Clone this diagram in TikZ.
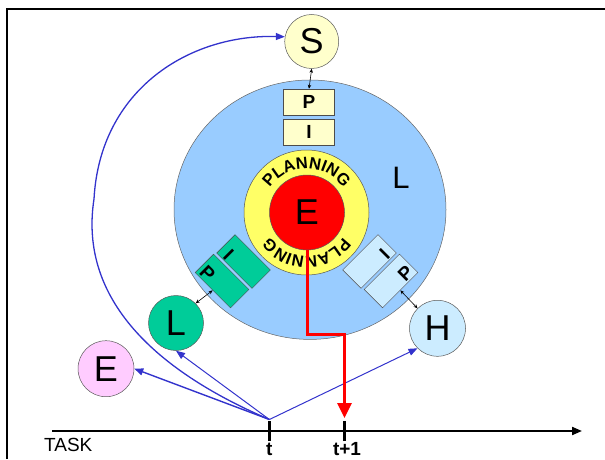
\documentclass[tikz,border=0pt]{standalone}
\usepackage{fontspec}
\setmainfont{Liberation Sans}
\usetikzlibrary{arrows.meta,shapes.geometric,decorations.text}
\definecolor{ringblue}{HTML}{99CCFF}
\definecolor{planyellow}{HTML}{FFFF66}
\definecolor{paleyellow}{HTML}{FFFFCC}
\definecolor{tealgreen}{HTML}{00CC99}
\definecolor{paleblue}{HTML}{CCECFF}
\definecolor{palepink}{HTML}{FFCCFF}
\definecolor{flowblue}{HTML}{3333CC}
\begin{document}
\begin{tikzpicture}[x=1pt,y=1pt,
  bubble/.style={circle, draw=black!65, line width=0.5pt, inner sep=0pt,
    minimum size=#1, font=\fontsize{36}{36}\selectfont},
  tag/.style={rectangle, draw=black!70, line width=0.5pt, inner sep=0pt,
    minimum width=51pt, minimum height=26pt, font=\bfseries\fontsize{19}{19}\selectfont},
  tagletter/.style={inner sep=0pt, font=\bfseries\fontsize{19}{19}\selectfont},
  link/.style={{Stealth[length=4pt,width=3.5pt]}-{Stealth[length=4pt,width=3.5pt]},
    line width=0.6pt},
  flow/.style={draw=flowblue, line width=1pt, -{Triangle[length=9pt,width=7pt]}},
  ticklabel/.style={inner sep=0pt, font=\bfseries\fontsize{19}{19}\selectfont}
]
\useasboundingbox (0,0) rectangle (605,459);

% frame
\draw[line width=2pt] (7,0) -- (7,450) -- (605,450);

% nested circles
\node[ellipse, draw=black!60, line width=0.5pt, fill=ringblue, inner sep=0pt,
  minimum width=272pt, minimum height=259.4pt] (ring) at (310,249.3) {};
\node[circle, draw=black!65, line width=0.5pt, fill=planyellow, inner sep=0pt,
  minimum size=125pt] (plan) at (306.5,246.5) {};
\node[bubble=75pt, fill=red] (core) at (307,246.5) {E};
\node[inner sep=0pt, font=\fontsize{31}{31}\selectfont] (ringL) at (401,281) {L};

% curved PLANNING labels
\path[decorate, decoration={text along path, text align=center,
  text format delimiters={|}{|},
  text={|\bfseries\fontsize{16.5}{16.5}\selectfont|PLANNING}}]
  (306.5,246.5) ++(165:44) arc[start angle=165, end angle=15, radius=44];
\path[decorate, decoration={text along path, text align=center,
  text format delimiters={|}{|},
  text={|\bfseries\fontsize{16.5}{16.5}\selectfont|PLANNING}}]
  (306.5,246.5) ++(-15:44) arc[start angle=-15, end angle=-165, radius=44];

% top boxes
\node[tag, fill=paleyellow] (topP) at (309,357) {P};
\node[tag, fill=paleyellow] (topI) at (309,327) {I};

% lower-left boxes
\node[tag, fill=tealgreen, minimum width=50pt, rotate=-45] (gI) at (243.5,197.5) {};
\node[tag, fill=tealgreen, minimum width=50pt, rotate=-45] (gP) at (222,178) {};
\node[tagletter, rotate=-45] (gIt) at (228.5,204.5) {I};
\node[tagletter, rotate=-45] (gPt) at (207.5,186) {P};

% lower-right boxes
\node[tag, fill=paleblue, minimum width=50pt, rotate=45] (hI) at (369.5,197.5) {};
\node[tag, fill=paleblue, minimum width=50pt, rotate=45] (hP) at (391,178) {};
\node[tagletter, rotate=45] (hIt) at (384.5,204.5) {I};
\node[tagletter, rotate=45] (hPt) at (405.5,186) {P};

% outer circles
\node[bubble=54pt, fill=paleyellow] (S) at (311.7,417.5) {S};
\node[bubble=55pt, fill=tealgreen] (Lc) at (176,136) {L};
\node[bubble=56pt, fill=palepink] (Ec) at (106,90.3) {E};
\node[bubble=56pt, fill=paleblue] (H) at (437.5,130.7) {H};

% small two-way links
\draw[link] (S.south) -- (topP.north);
\draw[link] (gP.south) -- (Lc.45);
\draw[link] (hP.south) -- (H.135);

% time axis
\coordinate (axisStart) at (52,28);
\coordinate (axisEnd) at (582,28);
\draw[line width=2pt, -{Triangle[length=10pt,width=8pt]}] (axisStart) -- (axisEnd);
\draw[line width=2.5pt] (269.4,18) -- (269.4,38);
\draw[line width=2.5pt] (344.5,18) -- (344.5,38);
\node[inner sep=0pt, anchor=base west, font=\fontsize{19}{19}\selectfont] (task) at (44,7.3) {TASK};
\node[ticklabel, anchor=base] (tlab) at (269.4,3.5) {t};
\node[ticklabel, anchor=base] (t1lab) at (347,3.5) {t+1};

% flows from time t
\coordinate (T) at (269.4,39.5);
\draw[flow, line width=1.4pt] (T) -- (Ec.east);
\draw[flow] (T) -- (Lc.south);
\draw[flow] (T) -- (H.225);
\draw[flow, line width=1.3pt] (T) .. controls (140,95) and (80,170) .. (94,260)
  .. controls (100,370) and (190,425) .. (S.170);

% red path to t+1
\coordinate (jog) at (344.5,125);
\coordinate (t1tip) at (344.5,41);
\draw[red, line width=3pt, line join=miter, -{Triangle[length=15pt,width=14pt]}]
  (core.south) |- (jog) -- (t1tip);
\end{tikzpicture}
\end{document}
